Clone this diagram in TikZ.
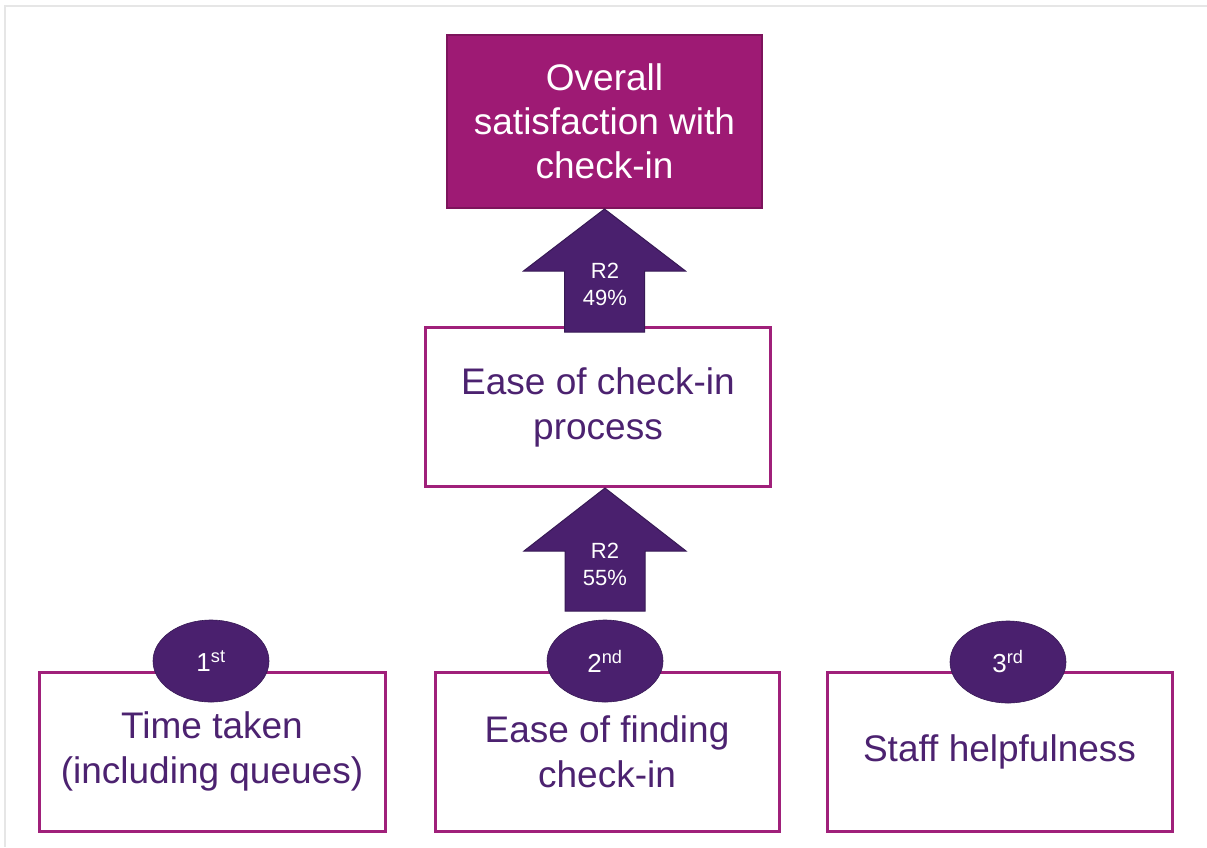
\documentclass[tikz,border=0pt]{standalone}
\usepackage{fontspec}
\setmainfont{Liberation Sans}
\usetikzlibrary{shapes.geometric}

\definecolor{mborder}{RGB}{160,32,122}
\definecolor{mfill}{RGB}{158,26,116}
\definecolor{mdark}{RGB}{125,20,92}
\definecolor{plum}{RGB}{74,32,110}
\definecolor{plumdark}{RGB}{55,25,85}
\definecolor{plumtext}{RGB}{76,34,112}
\definecolor{framegray}{RGB}{230,230,230}

\tikzset{
  boxstyle/.style={draw=mborder, line width=3pt, fill=white, rectangle,
    inner sep=0pt, align=center, text=plumtext,
    font=\fontsize{37}{45}\selectfont},
  headbox/.style={draw=mdark, line width=2pt, fill=mfill, rectangle,
    inner sep=0pt, align=center, text=white,
    font=\fontsize{37}{44}\selectfont},
  rankbadge/.style={ellipse, fill=plum, draw=plumdark, line width=0.6pt,
    minimum width=116pt, minimum height=82pt, inner sep=0pt, text=white,
    font=\fontsize{26}{30}\selectfont},
  blockarrow/.style={fill=plum, draw=plumdark, line width=1pt, line join=miter},
  arrowlabel/.style={text=white, align=center, inner sep=0pt,
    font=\fontsize{22}{27}\selectfont},
}

\begin{document}
\begin{tikzpicture}[x=1pt, y=-1pt]
  \useasboundingbox (0,0) rectangle (1207,847);
  \fill[white] (0,0) rectangle (1207,847);

  % light frame along the top and left edges
  \draw[framegray, line width=2pt] (5,847) -- (5,6) -- (1207,6);

  % outcome and driver boxes
  \node[headbox, minimum width=315pt, minimum height=173pt] (overall) at (604.5,121.5)
    {Overall\\satisfaction with\\check-in};
  \node[boxstyle, minimum width=345pt, minimum height=159pt] (process) at (598,407)
    {Ease of check-in\\process};

  \node[boxstyle, minimum width=346pt, minimum height=159pt] (time) at (212,751.5)
    {Time taken\\(including queues)};
  \node[boxstyle, minimum width=344pt, minimum height=159pt] (finding) at (607,751.5)
    {Ease of finding\\check-in};
  \node[boxstyle, minimum width=345pt, minimum height=159pt] (staff) at (999.5,751.5)
    {Staff helpfulness};

  % ranking badges sitting on the top edges
  \node[rankbadge] (rank1) at (211,661) {1\textsuperscript{st}};
  \node[rankbadge] (rank2) at (605,661) {2\textsuperscript{nd}};
  \node[rankbadge] (rank3) at (1008,662) {3\textsuperscript{rd}};

  % block arrows pointing up into each box
  \draw[blockarrow] (overall.south) -- ++(81,62) -- ++(-41,0) -- ++(0,61)
    -- ++(-80,0) -- ++(0,-61) -- ++(-41,0) -- cycle;
  \draw[blockarrow] ([xshift=7pt]process.south) -- ++(81,63) -- ++(-41,0) -- ++(0,60)
    -- ++(-80,0) -- ++(0,-60) -- ++(-41,0) -- cycle;

  \node[arrowlabel] (r2top) at (605,284) {R2\\49\%};
  \node[arrowlabel] (r2low) at (605,564) {R2\\55\%};
\end{tikzpicture}
\end{document}
